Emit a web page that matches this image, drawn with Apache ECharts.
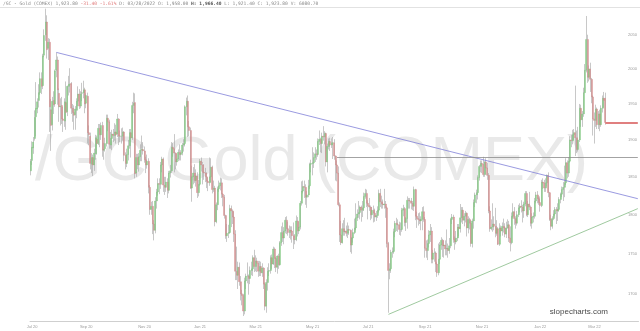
<!DOCTYPE html>
<html><head><meta charset="utf-8">
<script src="https://cdn.jsdelivr.net/npm/echarts@6/dist/echarts.min.js"></script>
<style>html,body{margin:0;padding:0;background:#fff}#c{width:640px;height:331px}</style>
</head><body><div id="c"></div>
<script>
// [date, open, high, low, close]
const candles = [
['2020-07-22',1858,1874,1852,1871],['2020-07-23',1872,1898,1866,1890],['2020-07-24',1889,1904,1881,1897],['2020-07-27',1902,1941,1899,1931],['2020-07-28',1932,1981,1905,1944],['2020-07-29',1943,1958,1937,1953],['2020-07-30',1955,1978,1945,1966],['2020-07-31',1966,1995,1963,1986],
['2020-08-03',1986,1995,1964,1975],['2020-08-04',1976,2022,1971,2019],['2020-08-05',2020,2058,2017,2049],['2020-08-06',2050,2089,2041,2069],['2020-08-07',2069,2079,2015,2028],['2020-08-10',2030,2045,2013,2039],['2020-08-11',2039,2044,1911,1946],['2020-08-12',1942,1957,1885,1920],['2020-08-13',1921,1960,1913,1954],['2020-08-14',1955,1968,1936,1949],['2020-08-17',1950,1999,1946,1997],['2020-08-18',1998,2024,1988,2013],['2020-08-19',2013,2018,1949,1970],['2020-08-20',1965,1972,1925,1946],['2020-08-21',1946,1958,1920,1947],['2020-08-24',1948,1960,1922,1929],['2020-08-25',1929,1946,1911,1927],['2020-08-26',1926,1958,1918,1953],['2020-08-27',1952,1982,1914,1938],['2020-08-28',1939,1976,1933,1975],['2020-08-31',1975,1990,1962,1978],
['2020-09-01',1978,2001,1966,1978],['2020-09-02',1979,1981,1936,1944],['2020-09-03',1944,1950,1925,1938],['2020-09-04',1938,1948,1914,1934],['2020-09-08',1935,1947,1914,1943],['2020-09-09',1941,1958,1930,1954],['2020-09-10',1954,1975,1947,1964],['2020-09-11',1964,1971,1943,1947],['2020-09-14',1947,1968,1944,1964],['2020-09-15',1965,1980,1954,1966],['2020-09-16',1966,1983,1958,1970],['2020-09-17',1970,1973,1937,1950],['2020-09-18',1951,1965,1944,1962],['2020-09-21',1961,1966,1895,1910],['2020-09-22',1910,1920,1893,1907],['2020-09-23',1905,1910,1860,1868],['2020-09-24',1867,1882,1855,1876],['2020-09-25',1876,1880,1851,1866],['2020-09-28',1866,1888,1858,1882],['2020-09-29',1881,1907,1873,1903],['2020-09-30',1901,1906,1880,1895],
['2020-10-01',1895,1922,1893,1916],['2020-10-02',1916,1922,1890,1907],['2020-10-05',1907,1924,1900,1920],['2020-10-06',1920,1925,1877,1886],['2020-10-07',1886,1896,1873,1887],['2020-10-08',1888,1903,1884,1895],['2020-10-09',1895,1935,1891,1930],['2020-10-12',1930,1935,1912,1925],['2020-10-13',1925,1928,1888,1894],['2020-10-14',1893,1911,1888,1902],['2020-10-15',1902,1914,1886,1908],['2020-10-16',1908,1915,1897,1906],['2020-10-19',1906,1923,1899,1911],['2020-10-20',1911,1921,1895,1907],['2020-10-21',1908,1936,1904,1929],['2020-10-22',1929,1930,1893,1905],['2020-10-23',1905,1913,1897,1905],['2020-10-26',1905,1916,1895,1905],['2020-10-27',1905,1917,1899,1911],['2020-10-28',1911,1912,1871,1879],['2020-10-29',1879,1883,1860,1868],['2020-10-30',1868,1888,1863,1880],
['2020-11-02',1880,1900,1872,1892],['2020-11-03',1892,1915,1888,1910],['2020-11-04',1910,1915,1876,1903],['2020-11-05',1903,1953,1900,1948],['2020-11-06',1948,1966,1937,1951],['2020-11-09',1952,1965,1848,1854],['2020-11-10',1855,1881,1850,1876],['2020-11-11',1876,1881,1860,1866],['2020-11-12',1866,1882,1857,1877],['2020-11-13',1877,1894,1871,1886],['2020-11-16',1886,1906,1871,1887],['2020-11-17',1887,1897,1880,1885],['2020-11-18',1885,1891,1869,1873],['2020-11-19',1873,1877,1855,1866],['2020-11-20',1866,1880,1861,1871],['2020-11-23',1871,1875,1828,1836],['2020-11-24',1836,1839,1800,1807],['2020-11-25',1807,1817,1800,1811],['2020-11-27',1811,1818,1775,1788],['2020-11-30',1788,1793,1767,1780],
['2020-12-01',1780,1823,1776,1818],['2020-12-02',1818,1834,1808,1830],['2020-12-03',1830,1848,1825,1841],['2020-12-04',1841,1848,1827,1840],['2020-12-07',1840,1870,1834,1866],['2020-12-08',1866,1877,1856,1874],['2020-12-09',1874,1876,1830,1839],['2020-12-10',1839,1850,1826,1836],['2020-12-11',1836,1850,1830,1843],['2020-12-14',1843,1848,1822,1832],['2020-12-15',1832,1858,1828,1855],['2020-12-16',1855,1866,1849,1858],['2020-12-17',1858,1897,1855,1890],['2020-12-18',1890,1896,1877,1888],['2020-12-21',1888,1908,1856,1882],['2020-12-22',1882,1883,1860,1870],['2020-12-23',1870,1881,1865,1874],['2020-12-24',1874,1887,1871,1883],['2020-12-28',1883,1894,1872,1880],['2020-12-29',1880,1886,1872,1882],['2020-12-30',1882,1896,1879,1893],['2020-12-31',1893,1901,1884,1895],
['2021-01-04',1895,1948,1891,1946],['2021-01-05',1946,1959,1934,1954],['2021-01-06',1954,1962,1904,1918],['2021-01-07',1918,1926,1905,1913],['2021-01-08',1913,1917,1834,1835],['2021-01-11',1835,1865,1817,1850],['2021-01-12',1850,1863,1840,1855],['2021-01-13',1855,1867,1842,1845],['2021-01-14',1845,1860,1837,1851],['2021-01-15',1851,1856,1822,1829],['2021-01-19',1829,1846,1824,1840],['2021-01-20',1840,1874,1838,1871],['2021-01-21',1871,1876,1857,1866],['2021-01-22',1866,1870,1840,1856],['2021-01-25',1856,1867,1846,1855],['2021-01-26',1855,1862,1843,1850],['2021-01-27',1850,1856,1835,1844],['2021-01-28',1844,1849,1831,1842],['2021-01-29',1842,1876,1838,1850],
['2021-02-01',1850,1875,1843,1863],['2021-02-02',1863,1865,1828,1833],['2021-02-03',1833,1845,1830,1835],['2021-02-04',1835,1838,1785,1791],['2021-02-05',1791,1816,1789,1813],['2021-02-08',1813,1837,1806,1834],['2021-02-09',1834,1845,1830,1838],['2021-02-10',1838,1849,1832,1842],['2021-02-11',1842,1848,1822,1827],['2021-02-12',1827,1828,1811,1823],['2021-02-16',1823,1826,1795,1799],['2021-02-17',1799,1800,1769,1773],['2021-02-18',1773,1788,1765,1776],['2021-02-19',1776,1787,1770,1777],['2021-02-22',1777,1813,1776,1808],['2021-02-23',1808,1812,1784,1805],['2021-02-24',1805,1807,1788,1797],['2021-02-25',1797,1804,1765,1775],['2021-02-26',1775,1780,1717,1728],
['2021-03-01',1728,1759,1717,1723],['2021-03-02',1723,1740,1706,1733],['2021-03-03',1733,1739,1710,1715],['2021-03-04',1715,1722,1692,1700],['2021-03-05',1700,1705,1686,1698],['2021-03-08',1698,1700,1673,1679],['2021-03-09',1679,1720,1675,1716],['2021-03-10',1716,1725,1706,1722],['2021-03-11',1722,1739,1713,1722],['2021-03-12',1722,1724,1699,1719],['2021-03-15',1719,1734,1712,1729],['2021-03-16',1729,1740,1723,1731],['2021-03-17',1731,1748,1722,1745],['2021-03-18',1745,1755,1727,1734],['2021-03-19',1734,1748,1728,1741],['2021-03-22',1741,1745,1727,1738],['2021-03-23',1738,1741,1721,1728],['2021-03-24',1728,1741,1722,1734],['2021-03-25',1734,1740,1722,1726],['2021-03-26',1726,1738,1721,1732],['2021-03-29',1732,1733,1706,1712],['2021-03-30',1712,1714,1680,1685],['2021-03-31',1685,1718,1677,1714],
['2021-04-01',1714,1733,1704,1728],['2021-04-05',1728,1738,1722,1729],['2021-04-06',1729,1748,1725,1745],['2021-04-07',1745,1749,1731,1737],['2021-04-08',1737,1759,1736,1756],['2021-04-09',1756,1758,1732,1744],['2021-04-12',1744,1746,1727,1733],['2021-04-13',1733,1748,1725,1747],['2021-04-14',1747,1750,1731,1736],['2021-04-15',1736,1766,1735,1764],['2021-04-16',1764,1785,1760,1777],['2021-04-19',1777,1790,1765,1770],['2021-04-20',1770,1784,1762,1779],['2021-04-21',1779,1797,1776,1793],['2021-04-22',1793,1798,1775,1782],['2021-04-23',1782,1791,1773,1777],['2021-04-26',1777,1786,1770,1780],['2021-04-27',1780,1785,1768,1779],['2021-04-28',1779,1785,1764,1773],['2021-04-29',1773,1790,1756,1768],['2021-04-30',1768,1775,1762,1768],
['2021-05-03',1768,1799,1766,1792],['2021-05-04',1792,1797,1772,1779],['2021-05-05',1779,1791,1775,1784],['2021-05-06',1784,1818,1781,1815],['2021-05-07',1815,1844,1812,1831],['2021-05-10',1831,1845,1828,1837],['2021-05-11',1837,1845,1822,1836],['2021-05-12',1836,1840,1813,1823],['2021-05-13',1823,1831,1809,1826],['2021-05-14',1826,1846,1823,1838],['2021-05-17',1838,1869,1834,1867],['2021-05-18',1867,1873,1856,1868],['2021-05-19',1868,1890,1852,1869],['2021-05-20',1869,1883,1862,1876],['2021-05-21',1876,1890,1870,1881],['2021-05-24',1881,1887,1873,1880],['2021-05-25',1880,1902,1877,1898],['2021-05-26',1898,1913,1893,1901],['2021-05-27',1901,1903,1883,1895],['2021-05-28',1895,1910,1882,1905],
['2021-06-01',1905,1919,1899,1904],['2021-06-02',1904,1912,1894,1909],['2021-06-03',1909,1910,1864,1870],['2021-06-04',1870,1895,1856,1891],['2021-06-07',1891,1902,1887,1898],['2021-06-08',1898,1903,1885,1893],['2021-06-09',1893,1902,1889,1896],['2021-06-10',1896,1904,1874,1896],['2021-06-11',1896,1901,1873,1878],['2021-06-14',1878,1879,1845,1866],['2021-06-15',1866,1872,1844,1855],['2021-06-16',1855,1864,1811,1813],['2021-06-17',1813,1816,1765,1774],['2021-06-18',1774,1792,1761,1764],['2021-06-21',1764,1789,1763,1782],['2021-06-22',1782,1793,1773,1778],['2021-06-23',1778,1796,1773,1779],['2021-06-24',1779,1786,1772,1776],['2021-06-25',1776,1790,1770,1781],['2021-06-28',1781,1786,1774,1780],['2021-06-29',1780,1781,1752,1761],['2021-06-30',1761,1771,1750,1770],
['2021-07-01',1770,1782,1764,1777],['2021-07-02',1777,1795,1775,1783],['2021-07-06',1783,1815,1780,1796],['2021-07-07',1796,1807,1792,1801],['2021-07-08',1801,1818,1796,1803],['2021-07-09',1803,1812,1794,1810],['2021-07-12',1810,1812,1791,1806],['2021-07-13',1806,1818,1797,1809],['2021-07-14',1809,1829,1805,1824],['2021-07-15',1824,1834,1821,1828],['2021-07-16',1828,1833,1810,1815],['2021-07-19',1815,1819,1794,1812],['2021-07-20',1812,1822,1805,1810],['2021-07-21',1810,1812,1793,1800],['2021-07-22',1800,1810,1795,1806],['2021-07-23',1806,1812,1790,1802],['2021-07-26',1802,1808,1791,1797],['2021-07-27',1797,1805,1792,1799],['2021-07-28',1799,1811,1796,1806],['2021-07-29',1806,1833,1803,1828],['2021-07-30',1828,1834,1810,1817],
['2021-08-02',1817,1825,1808,1814],['2021-08-03',1814,1820,1808,1813],['2021-08-04',1813,1834,1808,1814],['2021-08-05',1814,1818,1796,1809],['2021-08-06',1809,1811,1758,1763],['2021-08-09',1763,1765,1677,1729],['2021-08-10',1729,1738,1718,1731],['2021-08-11',1731,1755,1726,1752],['2021-08-12',1752,1758,1745,1753],['2021-08-13',1753,1782,1750,1778],['2021-08-16',1778,1792,1771,1789],['2021-08-17',1789,1796,1779,1787],['2021-08-18',1787,1794,1778,1787],['2021-08-19',1787,1791,1774,1781],['2021-08-20',1781,1790,1773,1781],['2021-08-23',1781,1809,1778,1806],['2021-08-24',1806,1813,1798,1808],['2021-08-25',1808,1810,1785,1790],['2021-08-26',1790,1797,1779,1795],['2021-08-27',1795,1824,1782,1819],['2021-08-30',1819,1822,1808,1818],['2021-08-31',1818,1822,1808,1818],
['2021-09-01',1818,1822,1807,1815],['2021-09-02',1815,1818,1806,1811],['2021-09-03',1811,1837,1805,1833],['2021-09-07',1833,1834,1793,1798],['2021-09-08',1798,1804,1783,1795],['2021-09-09',1795,1802,1786,1794],['2021-09-10',1794,1803,1788,1792],['2021-09-13',1792,1798,1780,1794],['2021-09-14',1794,1810,1780,1804],['2021-09-15',1804,1811,1791,1794],['2021-09-16',1794,1797,1745,1757],['2021-09-17',1757,1767,1745,1754],['2021-09-20',1754,1768,1742,1763],['2021-09-21',1763,1780,1758,1774],['2021-09-22',1774,1788,1765,1779],['2021-09-23',1779,1784,1738,1743],['2021-09-24',1743,1755,1738,1751],['2021-09-27',1751,1757,1740,1751],['2021-09-28',1751,1753,1727,1737],['2021-09-29',1737,1740,1721,1726],['2021-09-30',1726,1763,1723,1743],
['2021-10-01',1743,1765,1737,1761],['2021-10-04',1761,1771,1755,1767],['2021-10-05',1767,1769,1746,1760],['2021-10-06',1760,1767,1745,1761],['2021-10-07',1761,1767,1748,1756],['2021-10-08',1756,1781,1748,1757],['2021-10-11',1757,1763,1745,1754],['2021-10-12',1754,1770,1750,1760],['2021-10-13',1760,1796,1757,1794],['2021-10-14',1794,1801,1788,1797],['2021-10-15',1797,1800,1764,1768],['2021-10-18',1768,1772,1755,1765],['2021-10-19',1765,1779,1762,1770],['2021-10-20',1770,1788,1766,1784],['2021-10-21',1784,1788,1772,1782],['2021-10-22',1782,1814,1777,1796],['2021-10-25',1796,1810,1790,1806],['2021-10-26',1806,1810,1788,1793],['2021-10-27',1793,1802,1785,1798],['2021-10-28',1798,1805,1790,1802],['2021-10-29',1802,1803,1772,1783],
['2021-11-01',1783,1798,1776,1794],['2021-11-02',1794,1796,1781,1789],['2021-11-03',1789,1793,1759,1763],['2021-11-04',1763,1795,1758,1792],['2021-11-05',1792,1820,1782,1816],['2021-11-08',1816,1829,1810,1826],['2021-11-09',1826,1833,1815,1829],['2021-11-10',1829,1852,1820,1849],['2021-11-11',1849,1866,1845,1864],['2021-11-12',1864,1872,1856,1868],['2021-11-15',1868,1872,1855,1867],['2021-11-16',1867,1877,1850,1853],['2021-11-17',1853,1871,1850,1870],['2021-11-18',1870,1875,1853,1862],['2021-11-19',1862,1869,1846,1852],['2021-11-22',1852,1855,1802,1805],['2021-11-23',1805,1811,1778,1782],['2021-11-24',1782,1794,1780,1784],['2021-11-26',1784,1815,1778,1788],['2021-11-29',1788,1798,1780,1785],['2021-11-30',1785,1809,1771,1776],
['2021-12-01',1776,1793,1773,1782],['2021-12-02',1782,1784,1761,1762],['2021-12-03',1762,1789,1760,1783],['2021-12-06',1783,1786,1772,1779],['2021-12-07',1779,1790,1773,1785],['2021-12-08',1785,1795,1777,1783],['2021-12-09',1783,1789,1771,1775],['2021-12-10',1775,1791,1770,1783],['2021-12-13',1783,1794,1782,1787],['2021-12-14',1787,1792,1765,1770],['2021-12-15',1770,1785,1753,1764],['2021-12-16',1764,1803,1762,1798],['2021-12-17',1798,1815,1795,1804],['2021-12-20',1804,1810,1787,1795],['2021-12-21',1795,1798,1782,1789],['2021-12-22',1789,1805,1786,1800],['2021-12-23',1800,1813,1797,1809],['2021-12-27',1809,1815,1803,1811],['2021-12-28',1811,1819,1803,1810],['2021-12-29',1810,1813,1790,1805],['2021-12-30',1805,1817,1796,1814],['2021-12-31',1814,1831,1811,1828],
['2022-01-03',1828,1831,1798,1800],['2022-01-04',1800,1818,1797,1814],['2022-01-05',1814,1830,1806,1810],['2022-01-06',1810,1812,1785,1789],['2022-01-07',1789,1802,1782,1797],['2022-01-10',1797,1803,1790,1798],['2022-01-11',1798,1822,1795,1818],['2022-01-12',1818,1830,1815,1826],['2022-01-13',1826,1831,1815,1821],['2022-01-14',1821,1824,1813,1816],['2022-01-18',1816,1824,1804,1812],['2022-01-19',1812,1846,1810,1843],['2022-01-20',1843,1848,1834,1842],['2022-01-21',1842,1846,1830,1835],['2022-01-24',1835,1848,1830,1842],['2022-01-25',1842,1853,1837,1852],['2022-01-26',1852,1856,1823,1829],['2022-01-27',1829,1830,1792,1794],['2022-01-28',1794,1800,1780,1785],['2022-01-31',1785,1798,1782,1795],
['2022-02-01',1795,1806,1793,1801],['2022-02-02',1801,1810,1798,1807],['2022-02-03',1807,1810,1788,1805],['2022-02-04',1805,1815,1792,1807],['2022-02-07',1807,1823,1804,1820],['2022-02-08',1820,1829,1815,1827],['2022-02-09',1827,1837,1823,1833],['2022-02-10',1833,1843,1818,1836],['2022-02-11',1836,1865,1823,1842],['2022-02-14',1842,1875,1839,1869],['2022-02-15',1869,1872,1848,1855],['2022-02-16',1855,1876,1850,1871],['2022-02-17',1871,1905,1869,1900],['2022-02-18',1900,1907,1890,1899],['2022-02-22',1899,1914,1894,1907],['2022-02-23',1907,1915,1900,1910],['2022-02-24',1910,1976,1878,1903],['2022-02-25',1903,1913,1882,1887],['2022-02-28',1887,1918,1884,1900],
['2022-03-01',1900,1950,1897,1944],['2022-03-02',1944,1949,1918,1928],['2022-03-03',1928,1940,1918,1936],['2022-03-04',1936,1973,1932,1966],['2022-03-07',1966,2007,1966,1998],['2022-03-08',1998,2078,1995,2043],['2022-03-09',2043,2050,1980,1988],['2022-03-10',1988,2005,1982,2000],['2022-03-11',2000,2009,1967,1985],['2022-03-14',1985,1987,1951,1960],['2022-03-15',1960,1962,1906,1929],['2022-03-16',1929,1938,1895,1927],['2022-03-17',1927,1949,1918,1943],['2022-03-18',1943,1945,1915,1921],['2022-03-21',1921,1940,1915,1936],['2022-03-22',1936,1942,1912,1921],['2022-03-23',1921,1948,1918,1944],['2022-03-24',1944,1962,1938,1958],['2022-03-25',1958,1967,1945,1955],['2022-03-28',1958,1966,1921,1924]
];
// empty future sessions to the right of the last bar
const futureDates = ['2022-03-29','2022-03-30','2022-03-31','2022-04-01','2022-04-04','2022-04-05','2022-04-06','2022-04-07','2022-04-08','2022-04-11','2022-04-12','2022-04-13','2022-04-14','2022-04-18','2022-04-19','2022-04-20','2022-04-21','2022-04-22','2022-04-25','2022-04-26','2022-04-27','2022-04-28','2022-04-29','2022-05-02'];
const xTickDates = ['2020-07-23','2020-09-18','2020-11-18','2021-01-20','2021-03-19','2021-05-19','2021-07-19','2021-09-16','2021-11-15','2022-01-18','2022-03-16'];
const xTickLabels = ['Jul 20','Sep 20','Nov 20','Jan 21','Mar 21','May 21','Jul 21','Sep 21','Nov 21','Jan 22','Mar 22'];
const yTicks = [1700,1750,1800,1850,1900,1950,2000,2050];
const downTrend = [['2020-08-18',2024],['2022-05-02',1821]];
const upTrend = [['2021-08-09',1675],['2022-05-02',1808]];
const levelLine = [['2021-06-15',1876],['2022-05-02',1876]];
const lastLine = [['2022-03-28',1924],['2022-05-02',1924]];

const categories = candles.map(r => r[0]).concat(futureDates);
// full candles (wicks) and body-only candles (open/close range)
const wickData = candles.map(r => [r[1], r[4], r[3], r[2]]);
const bodyData = candles.map(r => [r[1], r[4], Math.min(r[1], r[4]), Math.max(r[1], r[4])]);

const chart = echarts.init(document.getElementById('c'), null, {renderer:'canvas'});
const seg = (pts, color, width) => [
  {coord: pts[0], lineStyle:{color, width, type:'solid'}},
  {coord: pts[1]}
];
chart.setOption({
  animation:false,
  backgroundColor:'#ffffff',
  grid:{left:30, right:0, top:8, bottom:10},
  xAxis:{
    type:'category', data:categories, boundaryGap:true,
    axisLine:{show:true, lineStyle:{color:'#cfcfcf', width:1}},
    axisTick:{show:false}, splitLine:{show:false},
    axisLabel:{
      interval:(i, v) => xTickDates.indexOf(v) >= 0,
      formatter:v => { const k = xTickDates.indexOf(v); return k >= 0 ? xTickLabels[k] : ''; },
      fontSize:4, color:'#9a9a9a', margin:4, fontFamily:'Liberation Sans'
    }
  },
  yAxis:{
    type:'log', logBase:10, min:1667, max:2090, position:'right',
    axisLine:{show:false}, axisTick:{show:false}, splitLine:{show:false},
    axisLabel:{customValues:yTicks, inside:true, margin:1.5, fontSize:4, color:'#9a9a9a', fontFamily:'Liberation Sans', formatter:v=>String(Math.round(v))}
  },
  graphic:[
    {type:'text', z:0, silent:true, style:{text:'/GC Gold (COMEX)', x:35, y:163, verticalAlign:'middle', fill:'#e9e9e9', font:'63px "Liberation Sans"'}},
    {type:'line', shape:{x1:0, y1:7.5, x2:640, y2:7.5}, style:{stroke:'#e2e2e2', lineWidth:1}, silent:true},
    {type:'text', left:3, top:1, silent:true, style:{
      text:'{a|/GC - Gold (COMEX) 1,923.80 }{r|-31.40 -1.61%}{a| D: 03/28/2022 O: 1,958.00 }{b|H: 1,966.40}{a| L: 1,921.40 C: 1,923.80 V: 6080.70}',
      rich:{a:{fontSize:4.6, fill:'#8a8a8a', fontFamily:'DejaVu Sans Mono'}, r:{fontSize:4.6, fill:'#e07a7a', fontFamily:'DejaVu Sans Mono'}, b:{fontSize:4.6, fill:'#555', fontWeight:'bold', fontFamily:'DejaVu Sans Mono'}}
    }},
    {type:'text', right:32, top:308, silent:true, style:{text:'slopecharts.com', fill:'#4a4a4a', font:'8px "Liberation Sans"'}}
  ],
  series:[{
    type:'candlestick', data:wickData, barWidth:1,
    itemStyle:{color:'#b4b4b4', color0:'#b4b4b4', borderColor:'#a2a2a2', borderColor0:'#a2a2a2', borderWidth:0.6},
    markLine:{
      silent:true, symbol:['none','none'], label:{show:false}, animation:false,
      data:[
        seg(downTrend, '#8080d8', 0.8),
        seg(upTrend, '#86bb86', 0.8),
        seg(levelLine, '#8c8c8c', 0.8),
        seg(lastLine, '#e07f7f', 2)
      ]
    }
  },{
    type:'candlestick', data:bodyData, barWidth:1.5,
    itemStyle:{color:'#8ad48a', color0:'#dc9494', borderColor:'#6cb86c', borderColor0:'#c97c7c', borderWidth:0.3}
  }]
});
</script></body></html>
